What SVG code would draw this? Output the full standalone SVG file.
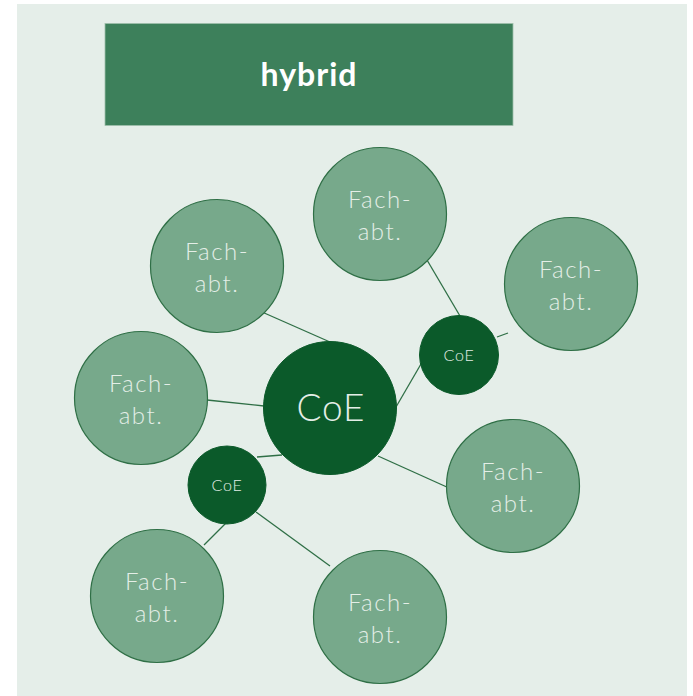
<svg xmlns="http://www.w3.org/2000/svg" width="693" height="696" viewBox="0 0 693 696">
<style>
.fach circle{fill:#77a98b;stroke:#2f6f46;stroke-width:1.2}
.coe circle{fill:#0b5a2a;stroke:#0b5a2a;stroke-width:1}
text{font-family:"Lato","Open Sans","Liberation Sans",sans-serif;fill:#e4eee7;text-anchor:middle}
.ft{font-size:24px;font-weight:300;letter-spacing:1.5px}
.sc{font-size:16px;font-weight:300;letter-spacing:0.8px}
#connectors line{stroke:#2f6f46;stroke-width:1.3}
</style>
<rect x="0" y="0" width="693" height="696" fill="#ffffff"/>
<rect x="17" y="4" width="670" height="692" fill="#e5eee9"/>
<g id="header">
<rect x="105" y="23.5" width="408" height="102" fill="#3d805b" stroke="#9fbfab" stroke-width="0.8"/>
<text x="309" y="86" style="font-size:32px;font-weight:700;fill:#ffffff;letter-spacing:1px">hybrid</text>
</g>
<g id="connectors">
<line x1="262" y1="312" x2="330" y2="342"/>
<line x1="207" y1="400" x2="264" y2="406"/>
<line x1="378" y1="456" x2="449" y2="488"/>
<line x1="396" y1="407" x2="421" y2="364"/>
<line x1="427" y1="260" x2="460" y2="316"/>
<line x1="497" y1="337" x2="508" y2="333"/>
<line x1="257" y1="457" x2="282" y2="455"/>
<line x1="204" y1="545" x2="226" y2="523"/>
<line x1="256" y1="512" x2="330" y2="566"/>
</g>
<g id="fach1" class="fach"><circle cx="380" cy="214" r="66.5"/><text class="ft" x="380" y="208">Fach-</text><text class="ft" x="380" y="240">abt.</text></g>
<g id="fach2" class="fach"><circle cx="217" cy="266" r="66.5"/><text class="ft" x="217" y="260">Fach-</text><text class="ft" x="217" y="292">abt.</text></g>
<g id="fach3" class="fach"><circle cx="571" cy="284" r="66.5"/><text class="ft" x="571" y="278">Fach-</text><text class="ft" x="571" y="310">abt.</text></g>
<g id="fach4" class="fach"><circle cx="141" cy="398" r="66.5"/><text class="ft" x="141" y="392">Fach-</text><text class="ft" x="141" y="424">abt.</text></g>
<g id="fach5" class="fach"><circle cx="513" cy="486" r="66.5"/><text class="ft" x="513" y="480">Fach-</text><text class="ft" x="513" y="512">abt.</text></g>
<g id="fach6" class="fach"><circle cx="157" cy="596" r="66.5"/><text class="ft" x="157" y="590">Fach-</text><text class="ft" x="157" y="622">abt.</text></g>
<g id="fach7" class="fach"><circle cx="380" cy="617" r="66.5"/><text class="ft" x="380" y="611">Fach-</text><text class="ft" x="380" y="643">abt.</text></g>
<g id="coe-main" class="coe"><circle cx="330" cy="408" r="66.5"/><text x="331" y="421" style="font-size:37px;font-weight:300;letter-spacing:1px">CoE</text></g>
<g id="coe-right" class="coe"><circle cx="459" cy="355" r="39.5"/><text class="sc" x="459" y="361">CoE</text></g>
<g id="coe-left" class="coe"><circle cx="227" cy="485" r="39"/><text class="sc" x="227" y="491">CoE</text></g>
</svg>
